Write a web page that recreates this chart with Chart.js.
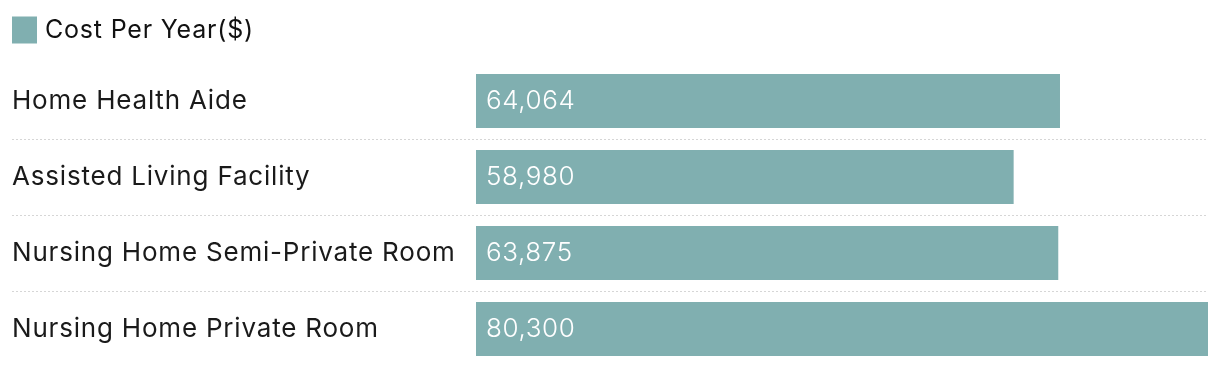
<!DOCTYPE html>
<html>
<head>
<meta charset="utf-8">
<script src="https://cdn.jsdelivr.net/npm/chart.js@4/dist/chart.umd.min.js"></script>
<style>
  html, body { margin: 0; padding: 0; background: #ffffff; }
  #wrap { width: 1220px; height: 368px; position: relative; }
</style>
</head>
<body>
<div id="wrap"><canvas id="c"></canvas></div>
<script>
// Annual cost of long-term care options
const categories = [
  'Home Health Aide',
  'Assisted Living Facility',
  'Nursing Home Semi-Private Room',
  'Nursing Home Private Room'
];
const costPerYear = [64064, 58980, 63875, 80300];
const seriesLabel = 'Cost Per Year($)';

const BAR_COLOR = '#80afb0';
const GRID_COLOR = '#d6d6d6';
const FONT = 'Inter, "Noto Sans", sans-serif';
const TEXT_SPACING = '0.8px';

// Slightly wider tracking for every text drawn on the canvas
const tracking = {
  id: 'tracking',
  beforeDraw(chart) { chart.ctx.letterSpacing = TEXT_SPACING; }
};

// Writes each bar's value in white just inside its left end
const valueLabels = {
  id: 'valueLabels',
  afterDatasetsDraw(chart) {
    const ctx = chart.ctx;
    const ds = chart.data.datasets[0];
    const meta = chart.getDatasetMeta(0);
    ctx.save();
    ctx.letterSpacing = '0.6px';
    ctx.font = '300 26px ' + FONT;
    ctx.fillStyle = '#ffffff';
    ctx.textAlign = 'left';
    ctx.textBaseline = 'middle';
    meta.data.forEach((bar, i) => {
      const text = ds.data[i].toLocaleString('en-US');
      ctx.fillText(text, bar.base + 10, bar.y);
    });
    ctx.restore();
  }
};

const hideOuter = (ctx, color) =>
  (ctx.index === 0 || ctx.index === undefined) ? 'rgba(0,0,0,0)' : color;

new Chart(document.getElementById('c'), {
  type: 'bar',
  data: {
    labels: categories,
    datasets: [{
      label: seriesLabel,
      data: costPerYear,
      backgroundColor: BAR_COLOR,
      borderWidth: 0,
      categoryPercentage: 1,
      barPercentage: 0.71
    }]
  },
  options: {
    indexAxis: 'y',
    responsive: true,
    maintainAspectRatio: false,
    animation: false,
    layout: { padding: { left: 12, right: 12, top: 15, bottom: 1 } },
    plugins: {
      tooltip: { enabled: false },
      legend: {
        position: 'top',
        align: 'start',
        labels: {
          boxWidth: 18,
          boxHeight: 18,
          padding: 2.5,
          color: '#111111',
          font: { family: FONT, size: 25 },
          generateLabels(chart) {
            const items = Chart.defaults.plugins.legend.labels.generateLabels(chart);
            return items.map(it => Object.assign(it, {
              fillStyle: BAR_COLOR,
              strokeStyle: BAR_COLOR,
              lineWidth: 9
            }));
          }
        }
      }
    },
    scales: {
      x: {
        position: 'top',
        min: 0,
        max: 80300,
        grid: { display: false },
        border: { display: false },
        ticks: { display: false },
        afterFit(scale) { scale.height = 10.5; }
      },
      y: {
        position: 'left',
        border: { display: false, dash: [2, 2] },
        grid: {
          offset: true,
          lineWidth: 1,
          tickLength: 464,
          color: ctx => hideOuter(ctx, GRID_COLOR),
          tickColor: ctx => hideOuter(ctx, GRID_COLOR),
          tickBorderDash: [2, 2]
        },
        ticks: {
          autoSkip: false,
          crossAlign: 'far',
          padding: 0,
          color: '#1a1a1a',
          font: { family: FONT, size: 26 }
        },
        afterFit(scale) {
          scale.width = 464;
          scale.paddingTop = 0;
          scale.paddingBottom = 0;
        }
      }
    }
  },
  plugins: [tracking, valueLabels]
});
</script>
</body>
</html>
